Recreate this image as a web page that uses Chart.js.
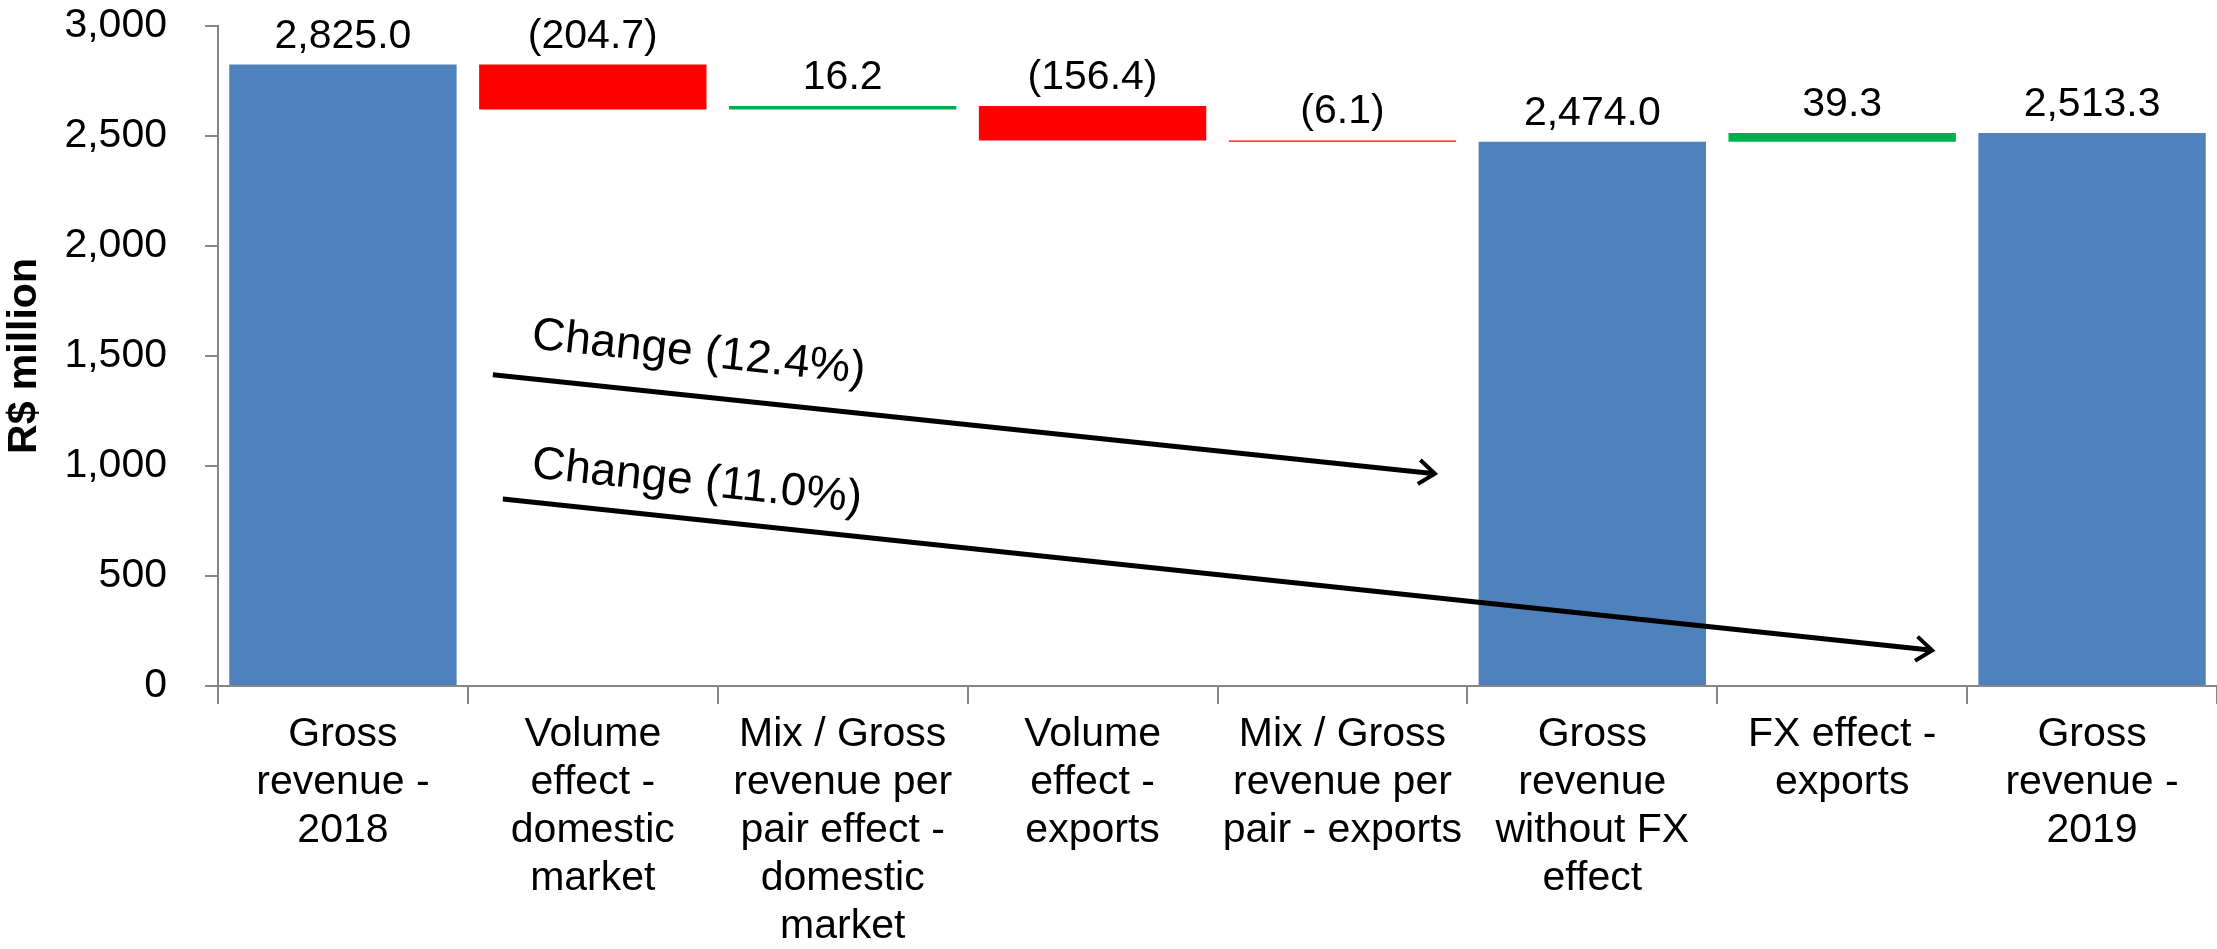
<!DOCTYPE html>
<html>
<head>
<meta charset="utf-8">
<script src="https://cdn.jsdelivr.net/npm/chart.js@4"></script>
<style>
  html, body { margin: 0; padding: 0; background: #fff; }
  canvas { display: block; }
</style>
</head>
<body>
<canvas id="bridge" width="2217" height="949"></canvas>
<script>
const categories = [
  ['Gross', 'revenue -', '2018'],
  ['Volume', 'effect -', 'domestic', 'market'],
  ['Mix / Gross', 'revenue per', 'pair effect -', 'domestic', 'market'],
  ['Volume', 'effect -', 'exports'],
  ['Mix / Gross', 'revenue per', 'pair - exports'],
  ['Gross', 'revenue', 'without FX', 'effect'],
  ['FX effect -', 'exports'],
  ['Gross', 'revenue -', '2019'],
];

// R$ million; totals are full bars, the rest are steps from the running total
const amounts = [2825.0, -204.7, 16.2, -156.4, -6.1, 2474.0, 39.3, 2513.3];
const isTotal = [true, false, false, false, false, true, false, true];

const yTicks = [0, 500, 1000, 1500, 2000, 2500, 3000];

const BLUE = '#4F81BD';
const RED = '#FF0000';
const GREEN = '#00B050';
const AXIS = '#868686';
const FONT = "'Liberation Sans', Arial, sans-serif";

// build the floating bars of the bridge
let running = 0;
const ranges = amounts.map((v, i) => {
  if (isTotal[i]) {
    running = v;
    return [0, v];
  }
  const from = running;
  running += v;
  return [Math.min(from, running), Math.max(from, running)];
});
const colors = amounts.map((v, i) => isTotal[i] ? BLUE : (v < 0 ? RED : GREEN));

function fmt(v) {
  const s = Math.abs(v).toLocaleString('en-US', {minimumFractionDigits: 1, maximumFractionDigits: 1});
  return v < 0 ? '(' + s + ')' : s;
}

// arrows between totals, placed in category / value units
const changeArrows = [
  {startBar: 0, endBar: 5, from: [0.6, 1415], to: [4.37, 965], text: [0.752, 1535]},
  {startBar: 0, endBar: 7, from: [0.64, 850], to: [6.36, 162], text: [0.752, 949]},
];

const valueLabels = {
  id: 'valueLabels',
  afterDatasetsDraw(chart) {
    const ctx = chart.ctx;
    const meta = chart.getDatasetMeta(0);
    ctx.save();
    ctx.font = '41px ' + FONT;
    ctx.fillStyle = '#000';
    ctx.textAlign = 'center';
    ctx.textBaseline = 'alphabetic';
    meta.data.forEach((bar, i) => {
      const top = Math.min(bar.y, bar.base);
      ctx.fillText(fmt(amounts[i]), bar.x, top - 17);
    });
    ctx.restore();
  }
};

const arrows = {
  id: 'changeArrows',
  afterDatasetsDraw(chart) {
    const {ctx, scales: {x, y}} = chart;
    ctx.save();
    changeArrows.forEach(a => {
      const x1 = x.getPixelForValue(a.from[0]), y1 = y.getPixelForValue(a.from[1]);
      const x2 = x.getPixelForValue(a.to[0]), y2 = y.getPixelForValue(a.to[1]);
      const ang = Math.atan2(y2 - y1, x2 - x1);

      ctx.strokeStyle = '#000';
      ctx.lineWidth = 5;
      ctx.lineCap = 'butt';
      ctx.beginPath();
      ctx.moveTo(x1, y1);
      ctx.lineTo(x2, y2);
      ctx.stroke();

      // open arrow head
      const head = 20, spread = 0.65;
      ctx.lineWidth = 4;
      ctx.beginPath();
      ctx.moveTo(x2 - head * Math.cos(ang - spread), y2 - head * Math.sin(ang - spread));
      ctx.lineTo(x2, y2);
      ctx.lineTo(x2 - head * Math.cos(ang + spread), y2 - head * Math.sin(ang + spread));
      ctx.stroke();

      const pct = (amounts[a.endBar] / amounts[a.startBar] - 1) * 100;
      const label = 'Change ' + (pct < 0 ? '(' + Math.abs(pct).toFixed(1) + '%)' : pct.toFixed(1) + '%');
      ctx.save();
      ctx.translate(x.getPixelForValue(a.text[0]), y.getPixelForValue(a.text[1]));
      ctx.rotate(ang);
      ctx.font = '46px ' + FONT;
      ctx.fillStyle = '#000';
      ctx.textAlign = 'left';
      ctx.textBaseline = 'alphabetic';
      ctx.fillText(label, 0, 0);
      ctx.restore();
    });
    ctx.restore();
  }
};

new Chart(document.getElementById('bridge'), {
  type: 'bar',
  data: {
    labels: categories,
    datasets: [{
      data: ranges,
      backgroundColor: colors,
      borderWidth: 0,
      barPercentage: 0.91,
      categoryPercentage: 1.0,
    }]
  },
  options: {
    responsive: false,
    animation: false,
    layout: { padding: { top: 26, right: 0, left: 0, bottom: 0 } },
    plugins: {
      legend: { display: false },
      tooltip: { enabled: false },
    },
    scales: {
      x: {
        grid: { drawOnChartArea: false, tickLength: 18, color: AXIS, lineWidth: 2 },
        border: { color: AXIS, width: 2 },
        ticks: {
          color: '#000',
          padding: 7,
          maxRotation: 0,
          autoSkip: false,
          font: { family: FONT, size: 41, lineHeight: 1.17 },
        },
        afterFit(scale) {
          scale.height = 263;
          scale.paddingLeft = 0;
          scale.paddingRight = 0;
        },
      },
      y: {
        min: 0,
        max: 3000,
        afterBuildTicks(scale) { scale.ticks = yTicks.map(v => ({value: v})); },
        grid: { drawOnChartArea: false, tickLength: 13, color: AXIS, lineWidth: 2 },
        border: { color: AXIS, width: 2 },
        ticks: {
          color: '#000',
          padding: 38,
          font: { family: FONT, size: 41 },
        },
        title: {
          display: true,
          text: 'R$ million',
          color: '#000',
          padding: 0,
          font: { family: FONT, size: 41, weight: 'bold', lineHeight: 1.2 },
        },
        afterFit(scale) {
          scale.width = 218;
          scale.paddingTop = 0;
          scale.paddingBottom = 0;
        },
      }
    }
  },
  plugins: [valueLabels, arrows]
});
</script>
</body>
</html>
